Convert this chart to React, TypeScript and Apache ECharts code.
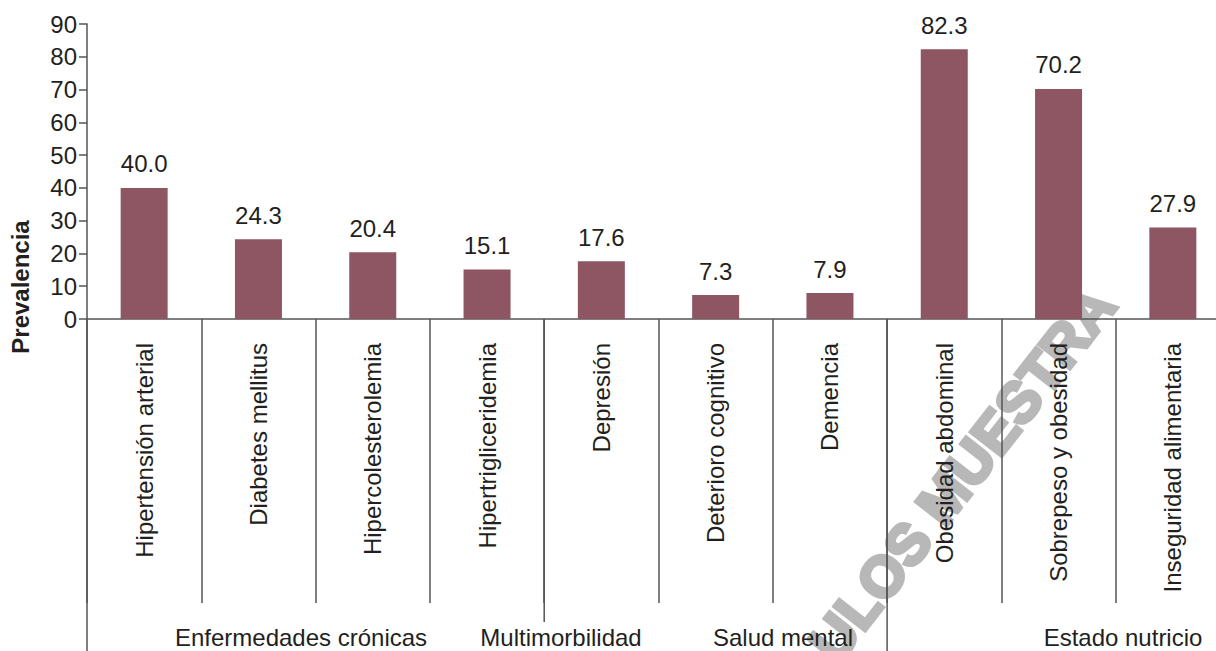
import React, { useEffect, useRef } from 'react';
import * as echarts from 'echarts';

// ---- data ----
const categories = [
  'Hipertensión arterial',
  'Diabetes mellitus',
  'Hipercolesterolemia',
  'Hipertrigliceridemia',
  'Depresión',
  'Deterioro cognitivo',
  'Demencia',
  'Obesidad abdominal',
  'Sobrepeso y obesidad',
  'Inseguridad alimentaria',
];
const prevalence = [40.0, 24.3, 20.4, 15.1, 17.6, 7.3, 7.9, 82.3, 70.2, 27.9];
const groupLabels = ['Enfermedades crónicas', 'Multimorbilidad', 'Salud mental', 'Estado nutricio'];
const groupStarts = [0, 4, 7];
const yMin = 0;
const yMax = 90;
const yStep = 10;
const yAxisTitle = 'Prevalencia';
const watermarkText = 'ULOS MUESTRA';

// ---- styles / layout ----
const FONT = "'Liberation Sans', Arial, Helvetica, sans-serif";
const TEXT = '#231f20';
const AXIS = '#555555';
const BAR = '#8e5563';
const WM = '#b8b8b8';
const FS = 24;
const groupLabelX = [301, 561, 783, 1123];
const groupLabelMasked = [false, true, false, false];
const groupLabelY = 637;
const pageBottom = 651;

export default function App() {
  const ref = useRef<HTMLDivElement>(null);

  useEffect(() => {
    const el = ref.current;
    if (!el) return;
    const chart = echarts.init(el, null, { renderer: 'svg' });
    const lineStyle = { color: AXIS, width: 1.5 };
    chart.setOption({
      animation: false,
      grid: { left: 87, right: 10, top: 24, bottom: 332, containLabel: false },
      xAxis: {
        type: 'category',
        data: categories,
        axisLine: { show: true, lineStyle },
        axisTick: { show: true, interval: 0, length: 284, alignWithLabel: false, lineStyle },
        axisLabel: {
          interval: 0,
          rotate: 90,
          margin: 24,
          color: TEXT,
          fontSize: FS,
          fontFamily: FONT,
        },
        splitLine: { show: false },
      },
      yAxis: {
        type: 'value',
        min: yMin,
        max: yMax,
        interval: yStep,
        axisLine: { show: true, lineStyle },
        axisTick: { show: true, length: 8, lineStyle },
        axisLabel: { margin: 10, color: TEXT, fontSize: FS, fontFamily: FONT },
        splitLine: { show: false },
      },
      series: [
        {
          type: 'bar',
          data: prevalence,
          barWidth: 47,
          itemStyle: { color: BAR },
          label: {
            show: true,
            position: 'top',
            distance: 12,
            color: TEXT,
            fontSize: FS,
            fontFamily: FONT,
            formatter: (p: any) => Number(p.value).toFixed(1),
          },
        },
      ],
    });

    const c0 = chart.convertToPixel({ xAxisIndex: 0 }, categories[0]) as number;
    const c1 = chart.convertToPixel({ xAxisIndex: 0 }, categories[1]) as number;
    const band = c1 - c0;
    const y0 = chart.convertToPixel({ yAxisIndex: 0 }, 0) as number;

    const graphics: any[] = [];
    graphics.push({
      type: 'text',
      id: 'wm',
      z: -1,
      x: 962,
      y: 474,
      rotation: (52 * Math.PI) / 180,
      style: {
        text: watermarkText,
        fill: WM,
        stroke: WM,
        lineWidth: 4,
        font: `bold 57px ${FONT}`,
        align: 'center',
        verticalAlign: 'middle',
        textAlign: 'center',
        textVerticalAlign: 'middle',
      },
    });
    groupStarts.forEach((i, k) => {
      const x = c0 + (i - 0.5) * band;
      graphics.push({
        type: 'line',
        id: 'gl' + k,
        z: 1,
        shape: { x1: x, y1: y0, x2: x, y2: pageBottom + 5 },
        style: { stroke: AXIS, lineWidth: 1.5 },
      });
    });
    groupLabels.forEach((t, k) => {
      graphics.push({
        type: 'text',
        id: 'gt' + k,
        z: 3,
        x: groupLabelX[k],
        y: groupLabelY,
        style: {
          text: t,
          fill: TEXT,
          font: `${FS}px ${FONT}`,
          align: 'center',
          verticalAlign: 'middle',
          textAlign: 'center',
          textVerticalAlign: 'middle',
          backgroundColor: groupLabelMasked[k] ? '#ffffff' : undefined,
          padding: groupLabelMasked[k] ? [3, 2] : 0,
        },
      });
    });
    graphics.push({
      type: 'text',
      id: 'ytitle',
      z: 3,
      x: 20,
      y: 287,
      rotation: Math.PI / 2,
      style: {
        text: yAxisTitle,
        fill: TEXT,
        font: `bold ${FS}px ${FONT}`,
        align: 'center',
        verticalAlign: 'middle',
        textAlign: 'center',
        textVerticalAlign: 'middle',
      },
    });
    chart.setOption({ graphic: graphics });

    return () => {
      chart.dispose();
    };
  }, []);

  return (
    <div
      style={{
        position: 'fixed',
        left: 0,
        top: 0,
        width: 1216,
        height: 651,
        overflow: 'hidden',
        background: '#ffffff',
      }}
    >
      <div ref={ref} style={{ width: 1240, height: 651 }} />
    </div>
  );
}
